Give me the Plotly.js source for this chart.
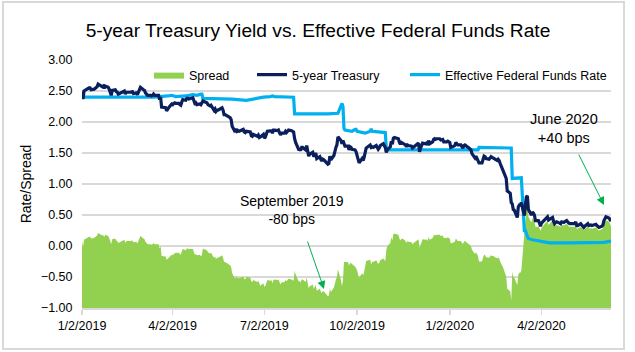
<!DOCTYPE html>
<html><head><meta charset="utf-8">
<script src="https://cdn.plot.ly/plotly-3.0.1.min.js"></script>
<style>html,body{margin:0;padding:0;background:#fff}#chart{width:635px;height:352px}</style>
</head><body><div id="chart"></div>
<script>
const FONT = '"Liberation Sans Narrow", "Arial Narrow", "Liberation Sans", Arial, sans-serif';

const tsyDates = [
'2019-01-02','2019-01-03','2019-01-04','2019-01-07','2019-01-08','2019-01-09','2019-01-10','2019-01-11','2019-01-14','2019-01-15','2019-01-16','2019-01-17','2019-01-18','2019-01-22','2019-01-23','2019-01-24','2019-01-25','2019-01-28','2019-01-29','2019-01-30','2019-01-31',
'2019-02-01','2019-02-04','2019-02-05','2019-02-06','2019-02-07','2019-02-08','2019-02-11','2019-02-12','2019-02-13','2019-02-14','2019-02-15','2019-02-19','2019-02-20','2019-02-21','2019-02-22','2019-02-25','2019-02-26','2019-02-27','2019-02-28',
'2019-03-01','2019-03-04','2019-03-05','2019-03-06','2019-03-07','2019-03-08','2019-03-11','2019-03-12','2019-03-13','2019-03-14','2019-03-15','2019-03-18','2019-03-19','2019-03-20','2019-03-21','2019-03-22','2019-03-25','2019-03-26','2019-03-27','2019-03-28','2019-03-29',
'2019-04-01','2019-04-02','2019-04-03','2019-04-04','2019-04-05','2019-04-08','2019-04-09','2019-04-10','2019-04-11','2019-04-12','2019-04-15','2019-04-16','2019-04-17','2019-04-18','2019-04-22','2019-04-23','2019-04-24','2019-04-25','2019-04-26','2019-04-29','2019-04-30',
'2019-05-01','2019-05-02','2019-05-03','2019-05-06','2019-05-07','2019-05-08','2019-05-09','2019-05-10','2019-05-13','2019-05-14','2019-05-15','2019-05-16','2019-05-17','2019-05-20','2019-05-21','2019-05-22','2019-05-23','2019-05-24','2019-05-28','2019-05-29','2019-05-30','2019-05-31',
'2019-06-03','2019-06-04','2019-06-05','2019-06-06','2019-06-07','2019-06-10','2019-06-11','2019-06-12','2019-06-13','2019-06-14','2019-06-17','2019-06-18','2019-06-19','2019-06-20','2019-06-21','2019-06-24','2019-06-25','2019-06-26','2019-06-27','2019-06-28',
'2019-07-01','2019-07-02','2019-07-03','2019-07-05','2019-07-08','2019-07-09','2019-07-10','2019-07-11','2019-07-12','2019-07-15','2019-07-16','2019-07-17','2019-07-18','2019-07-19','2019-07-22','2019-07-23','2019-07-24','2019-07-25','2019-07-26','2019-07-29','2019-07-30','2019-07-31',
'2019-08-01','2019-08-02','2019-08-05','2019-08-06','2019-08-07','2019-08-08','2019-08-09','2019-08-12','2019-08-13','2019-08-14','2019-08-15','2019-08-16','2019-08-19','2019-08-20','2019-08-21','2019-08-22','2019-08-23','2019-08-26','2019-08-27','2019-08-28','2019-08-29','2019-08-30',
'2019-09-03','2019-09-04','2019-09-05','2019-09-06','2019-09-09','2019-09-10','2019-09-11','2019-09-12','2019-09-13','2019-09-16','2019-09-17','2019-09-18','2019-09-19','2019-09-20','2019-09-23','2019-09-24','2019-09-25','2019-09-26','2019-09-27','2019-09-30',
'2019-10-01','2019-10-02','2019-10-03','2019-10-04','2019-10-07','2019-10-08','2019-10-09','2019-10-10','2019-10-11','2019-10-15','2019-10-16','2019-10-17','2019-10-18','2019-10-21','2019-10-22','2019-10-23','2019-10-24','2019-10-25','2019-10-28','2019-10-29','2019-10-30','2019-10-31',
'2019-11-01','2019-11-04','2019-11-05','2019-11-06','2019-11-07','2019-11-08','2019-11-12','2019-11-13','2019-11-14','2019-11-15','2019-11-18','2019-11-19','2019-11-20','2019-11-21','2019-11-22','2019-11-25','2019-11-26','2019-11-27','2019-11-29',
'2019-12-02','2019-12-03','2019-12-04','2019-12-05','2019-12-06','2019-12-09','2019-12-10','2019-12-11','2019-12-12','2019-12-13','2019-12-16','2019-12-17','2019-12-18','2019-12-19','2019-12-20','2019-12-23','2019-12-24','2019-12-26','2019-12-27','2019-12-30','2019-12-31',
'2020-01-02','2020-01-03','2020-01-06','2020-01-07','2020-01-08','2020-01-09','2020-01-10','2020-01-13','2020-01-14','2020-01-15','2020-01-16','2020-01-17','2020-01-21','2020-01-22','2020-01-23','2020-01-24','2020-01-27','2020-01-28','2020-01-29','2020-01-30','2020-01-31',
'2020-02-03','2020-02-04','2020-02-05','2020-02-06','2020-02-07','2020-02-10','2020-02-11','2020-02-12','2020-02-13','2020-02-14','2020-02-18','2020-02-19','2020-02-20','2020-02-21','2020-02-24','2020-02-25','2020-02-26','2020-02-27','2020-02-28',
'2020-03-02','2020-03-03','2020-03-04','2020-03-05','2020-03-06','2020-03-09','2020-03-10','2020-03-11','2020-03-12','2020-03-13','2020-03-16','2020-03-17','2020-03-18','2020-03-19','2020-03-20','2020-03-23','2020-03-24','2020-03-25','2020-03-26','2020-03-27','2020-03-30','2020-03-31',
'2020-04-01','2020-04-02','2020-04-03','2020-04-06','2020-04-07','2020-04-08','2020-04-09','2020-04-13','2020-04-14','2020-04-15','2020-04-16','2020-04-17','2020-04-20','2020-04-21','2020-04-22','2020-04-23','2020-04-24','2020-04-27','2020-04-28','2020-04-29','2020-04-30',
'2020-05-01','2020-05-04','2020-05-05','2020-05-06','2020-05-07','2020-05-08','2020-05-11','2020-05-12','2020-05-13','2020-05-14','2020-05-15','2020-05-18','2020-05-19','2020-05-20','2020-05-21','2020-05-22','2020-05-26','2020-05-27','2020-05-28','2020-05-29',
'2020-06-01','2020-06-02','2020-06-03','2020-06-04','2020-06-05','2020-06-08','2020-06-09','2020-06-10'
];
const tsyVals = [
2.49,2.37,2.50,2.53,2.55,2.55,2.55,2.52,2.53,2.54,2.55,2.57,2.61,2.57,2.58,2.54,2.58,2.56,2.53,2.48,2.43,
2.51,2.52,2.49,2.48,2.45,2.46,2.48,2.50,2.50,2.45,2.48,2.48,2.48,2.49,2.46,2.47,2.44,2.48,2.52,
2.56,2.52,2.51,2.47,2.44,2.43,2.43,2.42,2.43,2.45,2.43,2.43,2.43,2.36,2.40,2.24,2.23,2.23,2.18,2.21,2.23,
2.29,2.28,2.30,2.31,2.30,2.30,2.28,2.27,2.32,2.36,2.35,2.38,2.38,2.37,2.39,2.32,2.30,2.31,2.28,2.29,2.28,
2.31,2.34,2.33,2.31,2.28,2.27,2.26,2.27,2.19,2.21,2.17,2.19,2.19,2.22,2.23,2.19,2.12,2.12,2.07,2.07,2.04,1.93,
1.84,1.89,1.85,1.86,1.85,1.88,1.88,1.84,1.83,1.85,1.84,1.84,1.78,1.77,1.80,1.78,1.77,1.79,1.75,1.76,
1.80,1.74,1.76,1.85,1.85,1.86,1.82,1.87,1.87,1.86,1.87,1.82,1.79,1.82,1.82,1.85,1.83,1.85,1.87,1.86,1.85,1.84,
1.73,1.67,1.56,1.56,1.54,1.59,1.59,1.55,1.62,1.52,1.45,1.48,1.51,1.44,1.48,1.50,1.41,1.44,1.40,1.37,1.40,1.39,
1.32,1.33,1.45,1.39,1.46,1.56,1.59,1.63,1.76,1.70,1.65,1.70,1.64,1.61,1.61,1.55,1.60,1.59,1.56,1.55,
1.52,1.46,1.39,1.34,1.41,1.38,1.43,1.51,1.58,1.63,1.59,1.60,1.59,1.62,1.58,1.56,1.58,1.62,1.65,1.63,1.59,1.51,
1.55,1.60,1.69,1.64,1.74,1.75,1.73,1.67,1.64,1.67,1.65,1.63,1.60,1.63,1.62,1.61,1.58,1.60,1.62,
1.66,1.52,1.58,1.61,1.66,1.65,1.66,1.63,1.70,1.65,1.68,1.72,1.73,1.72,1.73,1.73,1.71,1.72,1.68,1.68,1.69,
1.67,1.59,1.61,1.62,1.67,1.65,1.63,1.63,1.61,1.58,1.62,1.63,1.58,1.57,1.55,1.49,1.42,1.45,1.41,1.39,1.34,
1.34,1.40,1.45,1.44,1.41,1.40,1.42,1.44,1.43,1.42,1.38,1.40,1.38,1.33,1.23,1.17,1.13,1.09,0.89,
0.85,0.70,0.68,0.59,0.58,0.46,0.63,0.66,0.66,0.70,0.49,0.65,0.79,0.81,0.59,0.50,0.55,0.53,0.50,0.41,0.41,0.37,
0.32,0.37,0.39,0.44,0.47,0.47,0.42,0.46,0.40,0.36,0.38,0.39,0.37,0.36,0.39,0.38,0.38,0.41,0.38,0.37,0.36,
0.36,0.36,0.36,0.39,0.33,0.33,0.36,0.34,0.31,0.30,0.32,0.36,0.33,0.34,0.34,0.33,0.35,0.33,0.31,0.30,
0.32,0.34,0.41,0.46,0.47,0.45,0.42,0.40
];

const effrDates = [
'2019-01-02','2019-01-31','2019-02-15','2019-02-28','2019-03-15','2019-03-28','2019-04-01','2019-04-05','2019-04-15','2019-04-22','2019-04-26','2019-04-30','2019-05-01','2019-05-02','2019-05-15','2019-05-31',
'2019-06-14','2019-06-28','2019-07-01','2019-07-08','2019-07-10','2019-07-12','2019-07-22','2019-07-31','2019-08-01','2019-08-15','2019-08-30','2019-09-03','2019-09-13','2019-09-16','2019-09-17','2019-09-18',
'2019-09-19','2019-09-20','2019-09-27','2019-09-30','2019-10-01','2019-10-02','2019-10-10','2019-10-15','2019-10-16','2019-10-17','2019-10-30','2019-10-31','2019-11-01','2019-11-15','2019-12-02','2019-12-31',
'2020-01-15','2020-01-30','2020-01-31','2020-02-14','2020-02-28','2020-03-03','2020-03-04','2020-03-13','2020-03-16','2020-03-17','2020-03-18','2020-03-19','2020-03-20','2020-03-24','2020-03-31',
'2020-04-10','2020-04-30','2020-05-15','2020-05-29','2020-06-03','2020-06-10'
];
const effrVals = [
2.40,2.40,2.40,2.40,2.40,2.42,2.43,2.41,2.42,2.44,2.43,2.45,2.45,2.38,2.38,2.37,
2.35,2.40,2.40,2.41,2.42,2.41,2.40,2.40,2.13,2.13,2.12,2.13,2.14,2.25,2.30,2.25,
1.90,1.87,1.85,1.88,1.88,1.85,1.82,1.85,1.89,1.85,1.83,1.58,1.55,1.55,1.55,1.55,
1.55,1.55,1.59,1.58,1.58,1.58,1.09,1.10,0.25,0.25,0.20,0.15,0.12,0.10,0.08,
0.05,0.05,0.05,0.05,0.06,0.08
];

const tickDates = ['2019-01-02','2019-04-02','2019-07-02','2019-10-02','2020-01-02','2020-04-02'];
const tickLabels = ['1/2/2019','4/2/2019','7/2/2019','10/2/2019','1/2/2020','4/2/2020'];
const seriesNames = ['Spread','5-year Treasury','Effective Federal Funds Rate'];

const Y_RANGE = [-1, 3];

// EFFR in force on a given day (last published value on or before it)
function effrOn(d) {
  let v = effrVals[0];
  for (let i = 0; i < effrDates.length; i++) { if (effrDates[i] <= d) v = effrVals[i]; else break; }
  return v;
}
const spreadVals = tsyDates.map((d, i) => +(tsyVals[i] - effrOn(d)).toFixed(2));

const traces = [
  {x: tsyDates, y: tsyDates.map(() => Y_RANGE[0]), mode: 'lines', line: {width: 0}, showlegend: false, hoverinfo: 'skip'},
  {x: tsyDates, y: spreadVals, mode: 'lines', fill: 'tonexty', fillcolor: '#92D050', line: {width: 0, color: '#92D050'}, name: seriesNames[0], legend: 'legend'},
  {x: effrDates, y: effrVals, mode: 'lines', line: {color: '#00B0F0', width: 3.2}, name: seriesNames[2], legend: 'legend3'},
  {x: tsyDates, y: tsyVals, mode: 'lines', line: {color: '#0B1F5C', width: 3.2}, name: seriesNames[1], legend: 'legend2'}
];

const L = 82, R = 611, T = 60, B = 308;
const px = v => (v - L) / (R - L);
const py = v => (B - v) / (B - T);
const legBase = {orientation: 'h', yanchor: 'middle', xanchor: 'left', bgcolor: 'rgba(0,0,0,0)', borderwidth: 0, font: {size: 12.5, color: '#000', family: FONT}};

const layout = {
  width: 635, height: 352,
  margin: {l: L, r: 635 - R, t: T, b: 352 - B},
  paper_bgcolor: '#fff', plot_bgcolor: 'rgba(0,0,0,0)',
  font: {family: FONT, size: 12, color: '#000'},
  title: {text: '5-year Treasury Yield vs. Effective Federal Funds Rate', font: {size: 19.2, color: '#000', family: FONT}, x: 318 / 635, xanchor: 'center', xref: 'container', y: 1 - 30 / 352, yanchor: 'middle', yref: 'container'},
  xaxis: {type: 'date', range: ['2019-01-02', '2020-06-10'], tickvals: tickDates, ticktext: tickLabels, ticks: 'outside', ticklen: 5, tickcolor: '#d9d9d9', tickwidth: 1.5, showline: true, linecolor: '#d9d9d9', linewidth: 1.5, showgrid: false, zeroline: false, tickfont: {size: 12.5}},
  yaxis: {range: Y_RANGE, dtick: 0.5, tick0: -1, tickformat: '.2f', showgrid: true, gridcolor: '#d9d9d9', gridwidth: 1.5, zeroline: false, showline: false, ticks: 'outside', ticklen: 6, tickcolor: 'rgba(0,0,0,0)', tickfont: {size: 12.5}, title: {text: 'Rate/Spread', font: {size: 14}, standoff: 5}},
  legend: Object.assign({}, legBase, {x: px(149), y: py(75)}),
  legend2: Object.assign({}, legBase, {x: px(252), y: py(75)}),
  legend3: Object.assign({}, legBase, {x: px(405), y: py(75)}),
  shapes: [
    {type: 'rect', xref: 'paper', yref: 'paper', x0: px(3), x1: px(624), y0: py(349), y1: py(2), line: {color: '#d9d9d9', width: 2}, fillcolor: 'rgba(0,0,0,0)', layer: 'below'}
  ],
  annotations: [
    {xref: 'paper', yref: 'paper', x: px(292), y: py(210), xanchor: 'center', yanchor: 'middle', text: 'September 2019<br>-80 bps', showarrow: false, font: {size: 14, color: '#000'}, align: 'center'},
    {xref: 'paper', yref: 'paper', x: px(564), y: py(128), xanchor: 'center', yanchor: 'middle', text: 'June 2020<br>+40 bps', showarrow: false, font: {size: 14.5, color: '#000'}, align: 'center'},
    {xref: 'paper', yref: 'paper', x: px(324), y: py(289), ax: -17, ay: -49, text: '', showarrow: true, arrowhead: 2, arrowsize: 1.6, arrowwidth: 1, arrowcolor: '#00B050'},
    {xref: 'paper', yref: 'paper', x: px(604), y: py(205), ax: -26, ay: -52, text: '', showarrow: true, arrowhead: 2, arrowsize: 1.6, arrowwidth: 1, arrowcolor: '#00B050'}
  ]
};

Plotly.newPlot('chart', traces, layout, {displayModeBar: false, staticPlot: true});
</script></body></html>
